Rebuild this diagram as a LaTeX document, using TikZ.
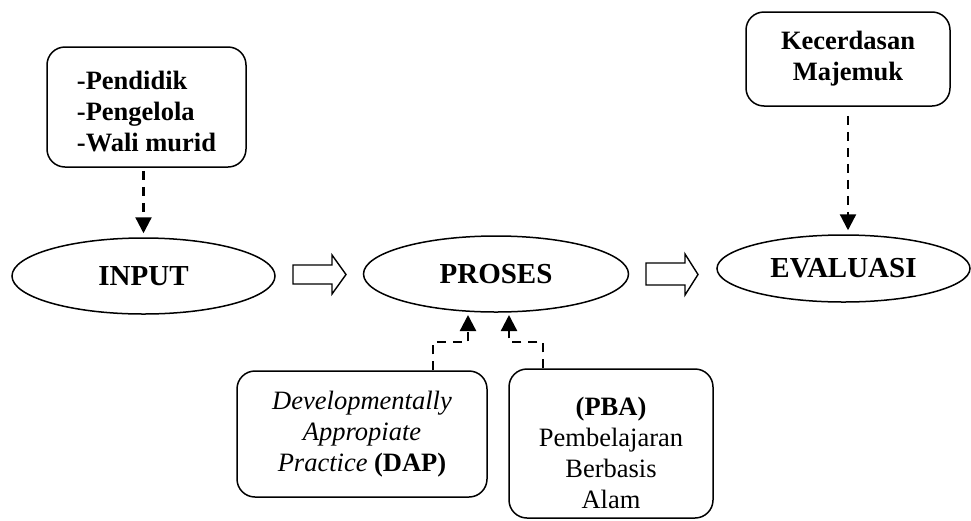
\documentclass[tikz,border=0pt]{standalone}
\usepackage{fontspec}
\setmainfont{Liberation Serif}
\usepackage{tikz}
\usetikzlibrary{arrows.meta,shapes.geometric}

\tikzset{
  tahap/.style={draw,line width=1.5pt,ellipse,inner sep=0pt,font=\fontsize{29}{34}\selectfont\bfseries},
  kotak/.style={draw,line width=1.5pt,rounded corners=18pt,inner sep=0pt,align=center,font=\fontsize{26.5}{31}\selectfont},
  putus/.style={line width=2.3pt,dash pattern=on 9pt off 7pt,-{Triangle[width=16pt,length=16pt]}},
  blok/.style={draw,line width=1.4pt,fill=white}
}

\begin{document}
\begin{tikzpicture}[x=1pt,y=-1pt]
\useasboundingbox (0,0) rectangle (971,520);
% tahapan utama
\node[tahap,minimum width=263pt,minimum height=76pt] (input) at (143.5,276) {INPUT};
\node[tahap,minimum width=265pt,minimum height=76pt] (proses) at (496,274) {PROSES};
\node[tahap,minimum width=253pt,minimum height=67pt] (evaluasi) at (843.5,268.5) {EVALUASI};
% panah blok
\draw[blok] (293,265) -- (332,265) -- (332,255) -- (346,274.5) -- (332,294) -- (332,284) -- (293,284) -- cycle;
\draw[blok] (646,263) -- (685,263) -- (685,254) -- (698,274.5) -- (685,295) -- (685,285) -- (646,285) -- cycle;
% kotak pendukung
\node[kotak,align=left,minimum width=199pt,minimum height=120pt] (pelaku) at (146.5,107)
  {\rule{0pt}{28pt}\bfseries -Pendidik\\\bfseries -Pengelola\\\bfseries -Wali murid};
\node[kotak,minimum width=204pt,minimum height=94pt] (kecerdasan) at (848,59)
  {\bfseries Kecerdasan\\\bfseries Majemuk};
\node[kotak,minimum width=250pt,minimum height=126pt] (dap) at (362,434)
  {\itshape Developmentally\\\itshape Appropiate\\\itshape Practice \upshape\bfseries(DAP)};
\node[kotak,minimum width=204pt,minimum height=149pt] (pba) at (611,443.5)
  {\rule{0pt}{37pt}\bfseries(PBA)\\Pembelajaran\\Berbasis\\Alam};
% panah putus-putus
\draw[putus] ([yshift=-3pt]pelaku.south -| input.north) -- ([yshift=4pt]input.north);
\draw[putus] ([yshift=-9pt]kecerdasan.south) -- ([yshift=4pt]kecerdasan.south |- evaluasi.north);
\coordinate (dapbelok) at (433,342);
\coordinate (dapmasuk) at (468,315);
\coordinate (pbabelok) at (543,342);
\coordinate (pbamasuk) at (509,315);
\draw[putus] (dapbelok |- dap.north) -- (dapbelok) -| (dapmasuk);
\draw[putus] (pbabelok |- pba.north) -- (pbabelok) -| (pbamasuk);
\end{tikzpicture}
\end{document}
